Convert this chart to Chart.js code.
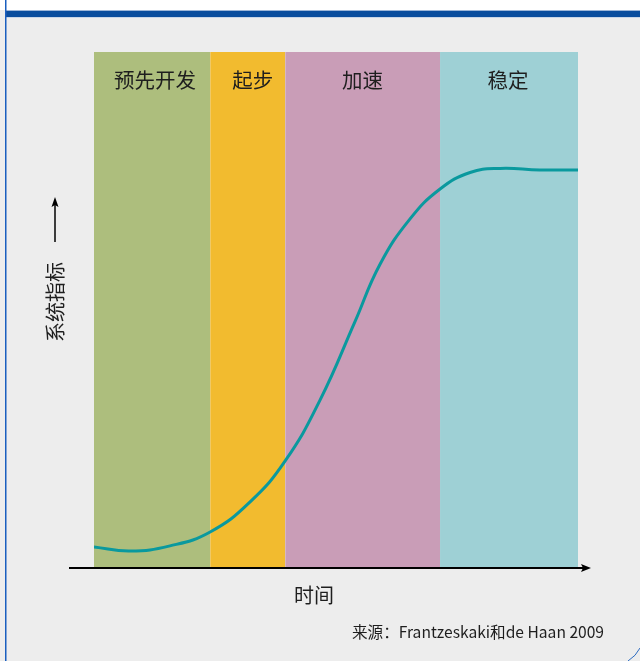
<!DOCTYPE html>
<html>
<head>
<meta charset="utf-8">
<script src="https://cdn.jsdelivr.net/npm/chart.js@4/dist/chart.umd.min.js"></script>
<style>
  html, body { margin: 0; padding: 0; background: #ededed; }
  canvas { display: block; }
</style>
</head>
<body>
<canvas id="s-curve" width="640" height="661"></canvas>
<script>
// stages of the transition and where each one starts/ends on the time axis
const stages = ["预先开发", "起步", "加速", "稳定"];
const stageBounds = [0, 24, 39.5, 71.5, 100];
const stageColors = ["#adbe7d", "#f2bb2f", "#c99db7", "#9ed0d5"];

// system indicator
const timeValues = [0, 7.4, 15.7, 24, 32.2, 39.5, 46.7, 53.9, 59.1, 65.3, 71.5, 77.7, 83.9, 92.1, 100];
const indicatorValues = [3.9, 3.1, 4.1, 6.8, 12.6, 20.6, 32.4, 47.6, 58.8, 67.6, 73.4, 76.6, 77.4, 77.1, 77.1];

const xTitle = "时间";
const yTitle = "系统指标";
const source = "来源：Frantzeskaki和de Haan 2009";

const FONT = '"Noto Sans CJK SC", "Noto Sans", sans-serif';

const datasets = [
  {
    data: timeValues.map((t, i) => ({ x: t, y: indicatorValues[i] })),
    borderColor: "#0a999e",
    borderWidth: 3,
    pointRadius: 0,
    tension: 0.45,
    fill: false,
    order: 0,
  },
];
stages.forEach((s, i) => {
  datasets.push({
    label: s,
    data: [
      { x: stageBounds[i], y: 100 },
      { x: stageBounds[i + 1], y: 100 },
    ],
    borderColor: "rgba(0,0,0,0)",
    borderWidth: 0,
    pointRadius: 0,
    backgroundColor: stageColors[i],
    fill: "origin",
    order: 1,
  });
});

// page frame, axis arrows and texts
const decorations = {
  id: "decorations",
  beforeDraw(chart) {
    const ctx = chart.ctx;
    ctx.save();
    ctx.fillStyle = "#ededed";
    ctx.fillRect(0, 0, 640, 661);
    ctx.fillStyle = "#ffffff";
    ctx.fillRect(0, 0, 640, 10);
    ctx.fillStyle = "#9db6d8";
    ctx.fillRect(5, 10, 635, 1);
    ctx.fillStyle = "#0a4d9e";
    ctx.fillRect(5, 11, 635, 6);
    ctx.fillStyle = "#c9d6e8";
    ctx.fillRect(5, 17, 635, 1);
    ctx.fillStyle = "#1a5fbf";
    ctx.fillRect(5, 0, 1.5, 661);
    ctx.strokeStyle = "#2d6cc0";
    ctx.lineWidth = 1;
    ctx.beginPath();
    ctx.moveTo(628, 661);
    ctx.quadraticCurveTo(636, 656, 640, 648);
    ctx.stroke();
    ctx.restore();
  },
  afterDatasetsDraw(chart) {
    const ctx = chart.ctx;
    const x = chart.scales.x;
    const area = chart.chartArea;
    ctx.save();
    ctx.fillStyle = "#1e1e1e";
    ctx.font = "20.5px " + FONT;
    ctx.textAlign = "center";
    ctx.textBaseline = "middle";
    const nudge = [3, 5, 0, -1];
    stages.forEach((s, i) => {
      const cx = (x.getPixelForValue(stageBounds[i]) + x.getPixelForValue(stageBounds[i + 1])) / 2;
      ctx.fillText(s, cx + nudge[i], area.top + 28);
    });

    // x axis with arrow
    const ay = area.bottom + 1;
    ctx.strokeStyle = "#000";
    ctx.fillStyle = "#000";
    ctx.lineWidth = 2;
    ctx.beginPath();
    ctx.moveTo(69, ay);
    ctx.lineTo(584, ay);
    ctx.stroke();
    ctx.beginPath();
    ctx.moveTo(591, ay);
    ctx.lineTo(581, ay - 4);
    ctx.lineTo(583, ay);
    ctx.lineTo(581, ay + 4);
    ctx.closePath();
    ctx.fill();

    ctx.fillStyle = "#1e1e1e";
    ctx.font = "20px " + FONT;
    ctx.fillText(xTitle, 314, 595);

    // y title, rotated, with arrow above it
    ctx.save();
    ctx.translate(55, 302);
    ctx.rotate(-Math.PI / 2);
    ctx.fillText(yTitle, 0, 0);
    ctx.restore();
    ctx.lineWidth = 1.5;
    ctx.strokeStyle = "#000";
    ctx.beginPath();
    ctx.moveTo(55, 242);
    ctx.lineTo(55, 204);
    ctx.stroke();
    ctx.fillStyle = "#000";
    ctx.beginPath();
    ctx.moveTo(55, 197);
    ctx.lineTo(51.5, 207);
    ctx.lineTo(55, 205);
    ctx.lineTo(58.5, 207);
    ctx.closePath();
    ctx.fill();

    ctx.fillStyle = "#1e1e1e";
    ctx.font = "15.6px " + FONT;
    ctx.textAlign = "right";
    ctx.fillText(source, 604, 632);
    ctx.restore();
  },
};

new Chart(document.getElementById("s-curve").getContext("2d"), {
  type: "line",
  data: { datasets: datasets },
  options: {
    responsive: false,
    animation: false,
    layout: { padding: { left: 94, right: 62, top: 52, bottom: 94 } },
    scales: {
      x: { type: "linear", min: 0, max: 100, display: false },
      y: { min: 0, max: 100, display: false },
    },
    plugins: {
      legend: { display: false },
      tooltip: { enabled: false },
    },
  },
  plugins: [decorations],
});
</script>
</body>
</html>
